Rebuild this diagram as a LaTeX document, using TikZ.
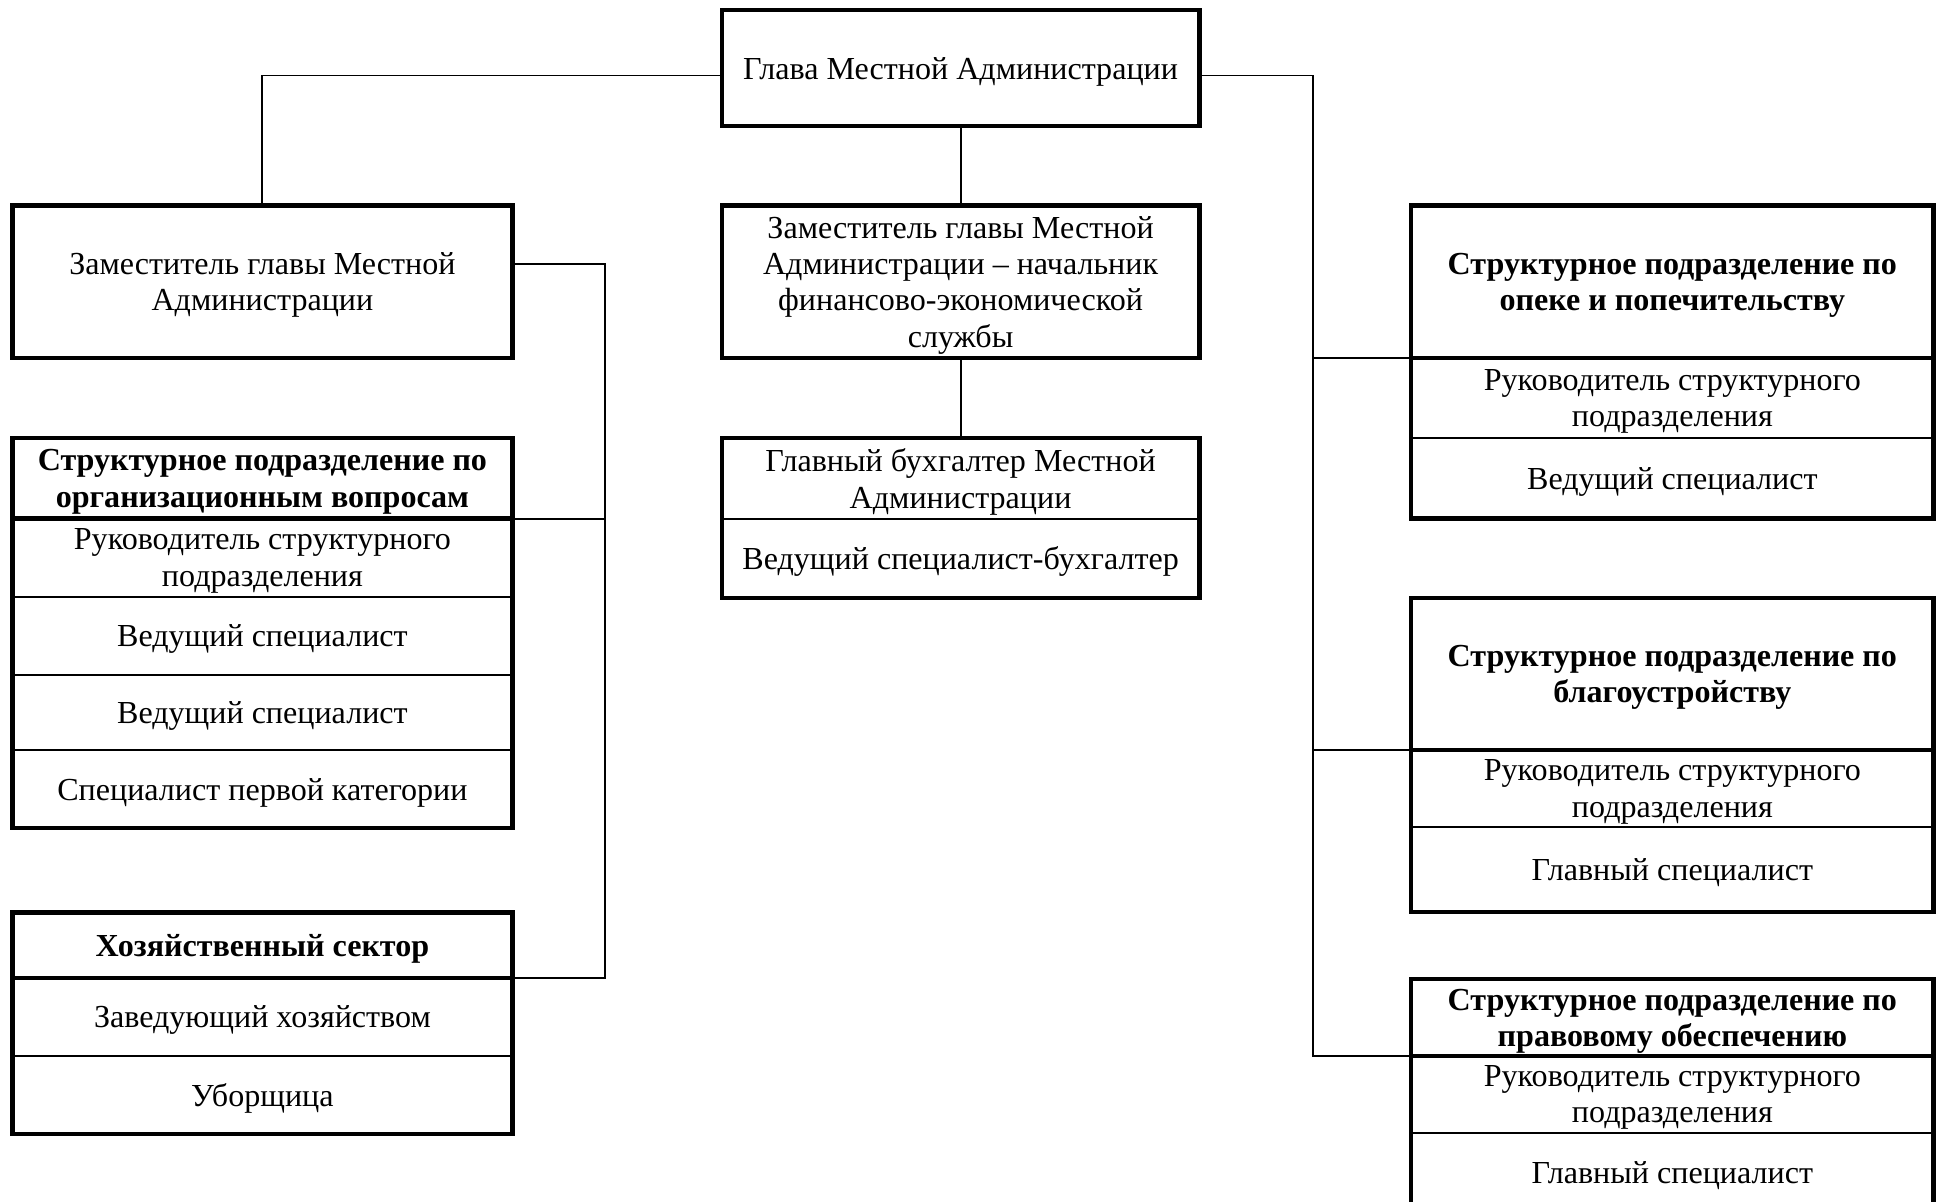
\documentclass[tikz,border=0pt]{standalone}
\usepackage{fontspec}
\setmainfont{Liberation Serif}
\usetikzlibrary{positioning}
\tikzset{
  cell/.style={draw,line width=0.9pt,inner sep=0pt,outer sep=0pt,align=center,text depth=0pt,
    font=\fontsize{14.75}{16.7}\selectfont},
  headcell/.style={cell,font=\fontsize{14.75}{16.7}\selectfont\bfseries},
  bigbox/.style={cell,line width=2pt},
  lcol/.style={minimum width=8.08cm},
  ccol/.style={minimum width=7.72cm},
  rcol/.style={minimum width=8.44cm},
  frame/.style={line width=2pt},
  link/.style={line width=0.9pt},
}
\newcommand{\unitframe}[2]{\draw[frame] (#1.north west) rectangle (#2.south east);}
\newcommand{\headrule}[1]{\draw[frame] (#1.south west) -- (#1.south east);}

\begin{document}
\begin{tikzpicture}[x=0.02cm,y=-0.02cm]
\useasboundingbox (0,0) rectangle (1568,971);
\clip (0,0) rectangle (1568,971);
\fill[white] (0,0) rectangle (1568,971);

% centre column
\node[bigbox,ccol,minimum height=1.88cm,anchor=north] (glava) at (776,8) {Глава Местной Администрации};
\node[bigbox,ccol,minimum height=2.46cm,anchor=north] (zamfin) at (776,166)
  {Заместитель главы Местной\\Администрации – начальник\\финансово-экономической\\службы};
\node[cell,ccol,minimum height=1.3cm,anchor=north] (buh) at (776,354) {Главный бухгалтер Местной\\Администрации};
\node[cell,ccol,minimum height=1.28cm,below=0pt of buh] (buhspec) {Ведущий специалист-бухгалтер};
\unitframe{buh}{buhspec}

% left column
\node[bigbox,lcol,minimum height=2.46cm,anchor=north] (zam) at (212,166) {Заместитель главы Местной\\Администрации};
\node[headcell,lcol,minimum height=1.3cm,anchor=north] (org) at (212,354) {Структурное подразделение по\\организационным вопросам};
\node[cell,lcol,minimum height=1.26cm,below=0pt of org] (orgA) {Руководитель структурного\\подразделения};
\node[cell,lcol,minimum height=1.26cm,below=0pt of orgA] (orgB) {Ведущий специалист};
\node[cell,lcol,minimum height=1.22cm,below=0pt of orgB] (orgC) {Ведущий специалист};
\node[cell,lcol,minimum height=1.26cm,below=0pt of orgC] (orgD) {Специалист первой категории};
\unitframe{org}{orgD}\headrule{org}
\node[headcell,lcol,minimum height=1.06cm,anchor=north] (hoz) at (212,737) {Хозяйственный сектор};
\node[cell,lcol,minimum height=1.26cm,below=0pt of hoz] (hozA) {Заведующий хозяйством};
\node[cell,lcol,minimum height=1.26cm,below=0pt of hozA] (hozB) {Уборщица};
\unitframe{hoz}{hozB}\headrule{hoz}

% right column
\node[headcell,rcol,minimum height=2.46cm,anchor=north] (opeka) at (1351,166) {Структурное подразделение по\\опеке и попечительству};
\node[cell,rcol,minimum height=1.3cm,below=0pt of opeka] (opekaA) {Руководитель структурного\\подразделения};
\node[cell,rcol,minimum height=1.3cm,below=0pt of opekaA] (opekaB) {Ведущий специалист};
\unitframe{opeka}{opekaB}\headrule{opeka}
\node[headcell,rcol,minimum height=2.46cm,anchor=north] (blag) at (1351,483) {Структурное подразделение по\\благоустройству};
\node[cell,rcol,minimum height=1.24cm,below=0pt of blag] (blagA) {Руководитель структурного\\подразделения};
\node[cell,rcol,minimum height=1.38cm,below=0pt of blagA] (blagB) {Главный специалист};
\unitframe{blag}{blagB}\headrule{blag}
\node[headcell,rcol,minimum height=1.24cm,anchor=north] (prav) at (1351,791) {Структурное подразделение по\\правовому обеспечению};
\node[cell,rcol,minimum height=1.24cm,below=0pt of prav] (pravA) {Руководитель структурного\\подразделения};
\node[cell,rcol,minimum height=1.3cm,below=0pt of pravA] (pravB) {Главный специалист};
\unitframe{prav}{pravB}\headrule{prav}

% connectors
\coordinate (ljoint) at (489,0);
\coordinate (rjoint) at (1061,0);
\draw[link] ([yshift=-0.12cm]glava.west) -| (zam.north);
\draw[link] (glava.south) -- (zamfin.north);
\draw[link] (zamfin.south) -- (buh.north);
\draw[link] ([yshift=0.29cm]zam.east) -| (ljoint |- hoz.south east) -- (hoz.south east);
\draw[link] (ljoint |- org.south east) -- (org.south east);
\draw[link] ([yshift=-0.12cm]glava.east) -| (rjoint |- prav.south west) -- (prav.south west);
\draw[link] (rjoint |- opeka.south west) -- (opeka.south west);
\draw[link] (rjoint |- blag.south west) -- (blag.south west);
\end{tikzpicture}
\end{document}
